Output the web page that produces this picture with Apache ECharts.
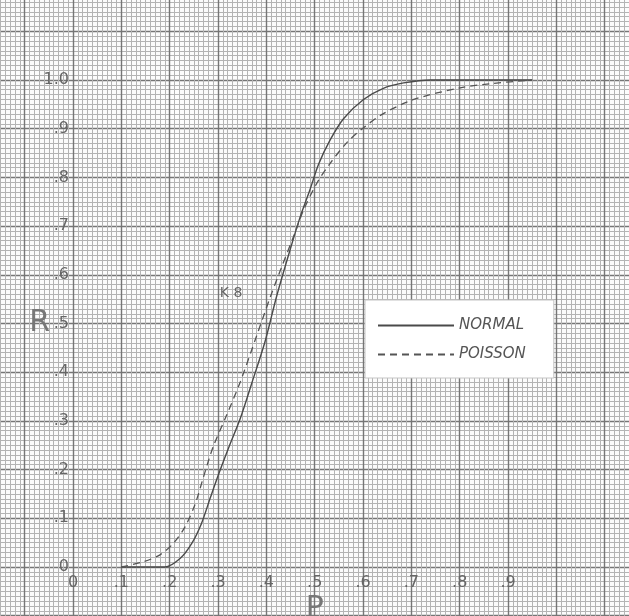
<!DOCTYPE html>
<html>
<head>
<meta charset="utf-8">
<script src="https://cdn.jsdelivr.net/npm/echarts@6/dist/echarts.min.js"></script>
<style>
html,body{margin:0;padding:0;background:#fcfcfc;}
#c{width:629px;height:616px;}
</style>
</head>
<body>
<div id="c"></div>
<script>
// Tick labels
const xTickLabels = ['0', '.1', '.2', '.3', '.4', '.5', '.6', '.7', '.8', '.9'];
const yTickLabels = ['0', '.1', '.2', '.3', '.4', '.5', '.6', '.7', '.8', '.9', '1.0'];

// NORMAL curve (P, R)
const normalP = [0.10, 0.19, 0.222, 0.246, 0.266, 0.284, 0.301, 0.322, 0.346, 0.37, 0.397, 0.421, 0.449, 0.47, 0.49, 0.508, 0.532, 0.56, 0.601, 0.642, 0.684, 0.74, 0.95];
const normalR = [0.0, 0.0, 0.018, 0.049, 0.09, 0.142, 0.19, 0.245, 0.305, 0.378, 0.462, 0.555, 0.651, 0.719, 0.774, 0.827, 0.877, 0.921, 0.96, 0.983, 0.994, 1.0, 1.0];

// POISSON curve (P, R)
const poissonP = [0.10, 0.146, 0.18, 0.208, 0.232, 0.253, 0.27, 0.29, 0.317, 0.346, 0.38, 0.408, 0.432, 0.456, 0.477, 0.505, 0.532, 0.567, 0.601, 0.642, 0.705, 0.801, 0.87, 0.95];
const poissonR = [0.0, 0.011, 0.025, 0.049, 0.083, 0.13, 0.185, 0.247, 0.31, 0.38, 0.475, 0.554, 0.617, 0.678, 0.733, 0.789, 0.829, 0.872, 0.902, 0.931, 0.96, 0.984, 0.993, 1.0];

const seriesNames = ['NORMAL', 'POISSON'];
const annotation = { text: 'K 8', p: 0.327, r: 0.561 };
const xTitle = 'P';
const yTitle = 'R';

const chart = echarts.init(document.getElementById('c'), null, { renderer: 'canvas' });

// layout: origin of the plot and pixels per unit
const W = 629, H = 616;
const x0 = 73, y0 = 567, kx = 483.4, ky = 487;

const labelFont = { color: '#666', fontSize: 16, fontFamily: 'DejaVu Sans' };
const majorLine = { show: true, lineStyle: { color: '#767676', width: 1.4 } };
const minorLine = { show: true, lineStyle: { color: '#b4b4b4', width: 1 } };

const fmt = (labels) => (v) => {
  const i = Math.round(v * 10);
  return (i >= 0 && i < labels.length && Math.abs(v * 10 - i) < 1e-6) ? labels[i] : '';
};

const option = {
  backgroundColor: '#fcfcfc',
  animation: false,
  grid: [
    // graph paper, extends past the page on every side
    { left: x0 - 0.2 * kx, right: W - (x0 + 1.2 * kx), top: y0 - 1.2 * ky, bottom: H - (y0 + 0.2 * ky), containLabel: false, outerBoundsMode: 'none' },
    // plot area 0..1 x 0..1
    { left: x0, right: W - (x0 + kx), top: y0 - ky, bottom: H - y0, containLabel: false, outerBoundsMode: 'none' }
  ],
  legend: {
    orient: 'vertical',
    left: 365,
    top: 300,
    padding: [18, 28, 16, 12],
    itemGap: 14,
    itemWidth: 76,
    itemHeight: 14,
    backgroundColor: '#ffffff',
    borderColor: '#c4c4c4',
    borderWidth: 1,
    itemStyle: { color: 'rgba(0,0,0,0)', borderWidth: 0, opacity: 0 },
    textStyle: { fontStyle: 'italic', fontSize: 15, color: '#555', fontFamily: 'DejaVu Sans' },
    data: seriesNames
  },
  xAxis: [
    {
      gridIndex: 0, type: 'value', min: -0.2, max: 1.2, interval: 0.1,
      axisLine: { show: false }, axisTick: { show: false }, axisLabel: { show: false },
      splitLine: majorLine, minorTick: { show: false, splitNumber: 10 }, minorSplitLine: minorLine
    },
    {
      gridIndex: 1, type: 'value', min: 0, max: 1, interval: 0.1,
      name: xTitle, nameLocation: 'middle', nameGap: 27, nameMoveOverlap: false,
      nameTextStyle: { color: '#777', fontSize: 30, fontFamily: 'DejaVu Sans', verticalAlign: 'top' },
      axisLine: { show: false }, axisTick: { show: false },
      axisLabel: { ...labelFont, margin: 8, showMinLabel: true, showMaxLabel: true, formatter: fmt(xTickLabels) },
      splitLine: { show: false }
    }
  ],
  yAxis: [
    {
      gridIndex: 0, type: 'value', min: -0.2, max: 1.2, interval: 0.1,
      axisLine: { show: false }, axisTick: { show: false }, axisLabel: { show: false },
      splitLine: majorLine, minorTick: { show: false, splitNumber: 10 }, minorSplitLine: minorLine
    },
    {
      gridIndex: 1, type: 'value', min: 0, max: 1, interval: 0.1,
      name: yTitle, nameLocation: 'middle', nameRotate: 0, nameGap: 23, nameMoveOverlap: false,
      nameTextStyle: { color: '#777', fontSize: 30, fontFamily: 'DejaVu Sans' },
      axisLine: { show: false }, axisTick: { show: false },
      axisLabel: { ...labelFont, margin: 4, showMinLabel: true, showMaxLabel: true, formatter: fmt(yTickLabels) },
      splitLine: { show: false }
    }
  ],
  series: [
    {
      name: seriesNames[0],
      type: 'line',
      xAxisIndex: 1, yAxisIndex: 1,
      data: normalP.map((p, i) => [p, normalR[i]]),
      symbol: 'none',
      smooth: 0.3,
      clip: false,
      lineStyle: { color: '#4a4a4a', width: 1.4, type: 'solid' },
      itemStyle: { color: '#4a4a4a' },
      z: 5,
      markPoint: {
        symbol: 'circle',
        symbolSize: 1,
        itemStyle: { color: 'rgba(0,0,0,0)' },
        label: { show: true, position: 'inside', formatter: annotation.text, color: '#666', fontSize: 14, fontFamily: 'DejaVu Sans' },
        data: [{ coord: [annotation.p, annotation.r] }]
      }
    },
    {
      name: seriesNames[1],
      type: 'line',
      xAxisIndex: 1, yAxisIndex: 1,
      data: poissonP.map((p, i) => [p, poissonR[i]]),
      symbol: 'none',
      smooth: 0.3,
      clip: false,
      lineStyle: { color: '#555', width: 1.3, type: [7, 5] },
      itemStyle: { color: '#555' },
      z: 5
    }
  ]
};
chart.setOption(option);
</script>
</body>
</html>
